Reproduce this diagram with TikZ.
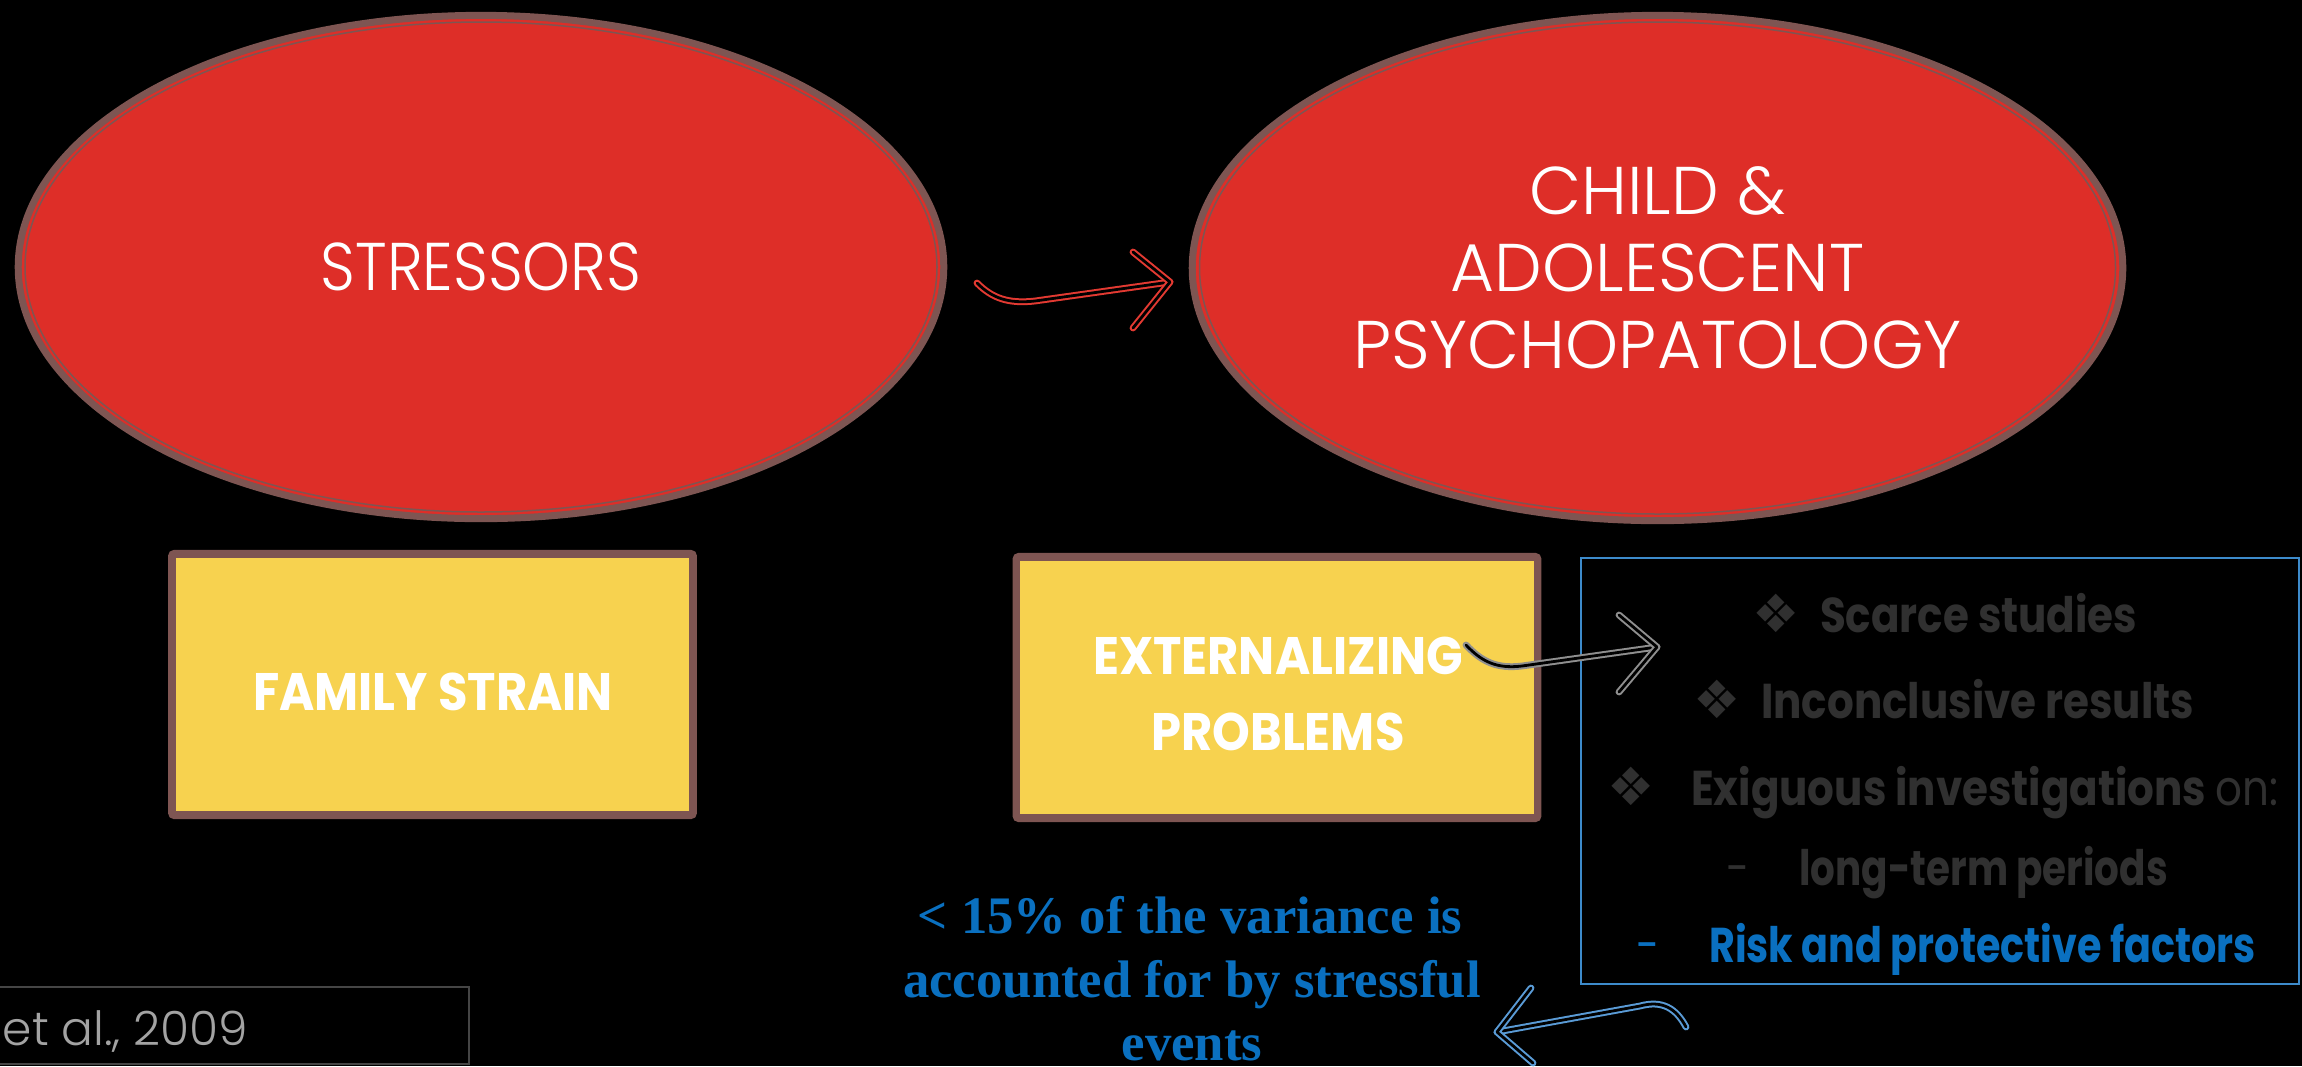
\documentclass[tikz,border=0pt]{standalone}
\usepackage{fontspec}
\setmainfont{Poppins}
\newfontfamily\dejavu{DejaVu Sans}
\newfontfamily\timesb{Liberation Serif}
\newfontfamily\boxfont[FakeStretch=0.91]{Poppins}
\newfontfamily\listfont[FakeStretch=0.86]{Poppins}
\IfFontExistsTF{Poppins Light}{\newfontfamily\thinfont{Poppins Light}}{\newfontfamily\thinfont{Poppins}}
\usetikzlibrary{shapes.geometric}

\definecolor{ovalred}{HTML}{DE2E28}
\definecolor{rimbrown}{HTML}{7E5552}
\definecolor{boxyellow}{HTML}{F7D24F}
\definecolor{frameblue}{HTML}{3D8BCB}
\definecolor{noteblue}{HTML}{0A70C0}
\definecolor{dimgray}{HTML}{303030}
\definecolor{citegray}{HTML}{A3A3A3}
\definecolor{citeframe}{HTML}{454545}
\definecolor{arrowred}{HTML}{E33A32}
\definecolor{arrowgray}{HTML}{8F8F8F}
\definecolor{arrowblue}{HTML}{5A9BD6}

\tikzset{
  oval/.style={ellipse, fill=ovalred, draw=rimbrown, line width=0.07cm, inner sep=0pt,
    text=white, align=center, font=\thinfont\fontsize{19.2pt}{21.9pt}\selectfont},
  rimline/.style={draw=rimbrown, line width=0.015cm},
  ybox/.style={rectangle, fill=boxyellow, draw=rimbrown, line width=0.065cm,
    rounded corners=0.03cm, inner sep=0pt, minimum width=5.22cm, minimum height=2.625cm},
  boxtext/.style={text=white, align=center, inner sep=0pt,
    font=\boxfont\bfseries\fontsize{15pt}{21.6pt}\selectfont},
  gapline/.style={anchor=base, inner sep=0pt, text=dimgray,
    font=\listfont\bfseries\fontsize{13.9pt}{16pt}\selectfont},
  note/.style={anchor=base, inner sep=0pt, text=noteblue,
    font=\timesb\bfseries\fontsize{15pt}{18pt}\selectfont},
  hollow/.style={line width=0.02cm, double=black, double distance=0.028cm,
    line cap=round, line join=round},
}
\newcommand{\gapbullet}{{\dejavu\mdseries\fontsize{15pt}{16pt}\selectfont ❖}}

\begin{document}
\begin{tikzpicture}[x=0.01cm, y=-0.01cm]
\fill[black] (0,0) rectangle (2302,1066);
\useasboundingbox (0,0) rectangle (2302,1066);
\clip (0,0) rectangle (2302,1066);

% the two red ovals
\node[oval, minimum width=9.25cm, minimum height=5.03cm] (stressors) at (481,267) {\scalebox{0.9}[1]{STRESSORS}};
\draw[rimline] (stressors.center) ellipse [x radius=456, y radius=245];
\node[oval, minimum width=9.30cm, minimum height=5.05cm] (psycho) at (1657.5,268)
  {CHILD \&\\ADOLESCENT\\PSYCHOPATOLOGY};
\draw[rimline] (psycho.center) ellipse [x radius=458, y radius=246];

% yellow boxes
\node[ybox] (family) at (432.5,684.5) {};
\draw[rimline] ([shift={(7,7)}]family.north west) rectangle ([shift={(-7,-7)}]family.south east);
\node[boxtext] (famtext) at (433,691.5) {FAMILY STRAIN};

\node[ybox] (extern) at (1277,687.5) {};
\draw[rimline] ([shift={(7,7)}]extern.north west) rectangle ([shift={(-7,-7)}]extern.south east);
\node[boxtext] (exttext) at (1278,694) {EXTERNALIZING\\PROBLEMS};

% framed list of research gaps
\node[draw=frameblue, line width=0.02cm, minimum width=7.18cm, minimum height=4.26cm, inner sep=0pt]
  (gaps) at (1940,771) {};
\node[gapline] (g1) at (1945,632) {\gapbullet\hspace{0.2cm}Scarce studies};
\node[gapline] (g2) at (1944,718) {\gapbullet\hspace{0.2cm}Inconclusive results};
\node[gapline] (g3) at (1943,805) {\gapbullet\hspace{0.36cm}Exiguous investigations {\mdseries on:}};
\node[gapline] (g4) at (1947,885) {{\mdseries -}\hspace{0.5cm}\scalebox{0.925}[1]{long-term periods}};
\node[gapline, text=noteblue] (g5) at (1946,962) {{\mdseries -}\hspace{0.5cm}\scalebox{0.944}[1]{Risk and protective factors}};

% variance note
\node[note] (n1) at (1190,933) {< 15\% of the variance is};
\node[note] (n2) at (1192,997) {accounted for by stressful};
\node[note] (n3) at (1192,1060) {events};

% citation
\node[draw=citeframe, line width=0.02cm, minimum width=4.89cm, minimum height=0.77cm, inner sep=0pt]
  (citebox) at (224.5,1025.5) {};
\node[anchor=base west, inner sep=0pt, text=citegray, font=\thinfont\fontsize{13.4pt}{15pt}\selectfont]
  (cite) at (2,1045) {et al., 2009};

% hollow arrows
\coordinate (rtail) at (977,283);
\coordinate (rtip) at (1170,282);
\coordinate (rup) at (1133,252);
\coordinate (rdn) at (1133,328);
\draw[hollow, draw=arrowred] (rtail) .. controls (992,298) and (1008,304) .. (1035,301) -- (rtip);
\draw[hollow, draw=arrowred] (rup) -- (rtip) -- (rdn);

\coordinate (xtail) at (1466,645);
\coordinate (xtip) at (1657,647);
\coordinate (xup) at (1619,615);
\coordinate (xdn) at (1619,692);
\draw[hollow, draw=arrowgray] (xtail) .. controls (1482,662) and (1497,669) .. (1522,666) -- (xtip);
\draw[hollow, draw=arrowgray] (xup) -- (xtip) -- (xdn);

\coordinate (btail) at (1686,1027);
\coordinate (btip) at (1497,1032);
\coordinate (bup) at (1531,988);
\coordinate (bdn) at (1533,1063);
\draw[hollow, draw=arrowblue] (btail) .. controls (1676,1008) and (1662,1000) .. (1640,1006) -- (btip);
\draw[hollow, draw=arrowblue] (bup) -- (btip) -- (bdn);
\end{tikzpicture}
\end{document}
